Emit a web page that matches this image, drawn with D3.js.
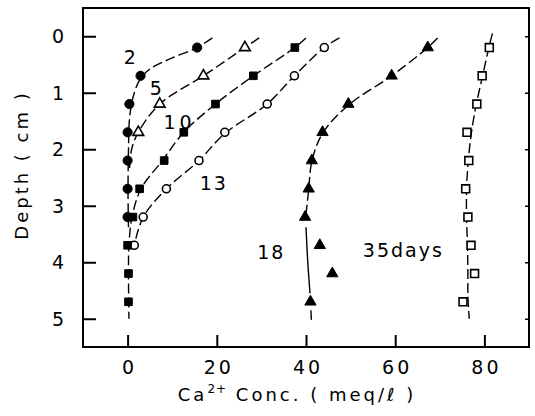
<!DOCTYPE html>
<html>
<head>
<meta charset="utf-8">
<script src="https://cdn.jsdelivr.net/npm/d3@7"></script>
<style>
  html, body { margin: 0; padding: 0; background: #fff; }
  svg { display: block; }
  text { font-family: "DejaVu Sans", sans-serif; fill: #000; }
</style>
</head>
<body>
<svg id="chart" width="535" height="416"></svg>
<script>
// ---- data (Ca2+ concentration in meq/l vs depth in cm) ----
const depths = [0.2, 0.7, 1.2, 1.7, 2.2, 2.7, 3.2, 3.7, 4.2, 4.7];

const day2Values  = [15.6, 2.9, 0.4, 0.0, 0.0, 0.0, 0.0];
const day5Values  = [26.3, 17.0, 7.2, 2.4];
const day10Values = [37.5, 28.2, 19.7, 12.6, 8.2, 2.7, 1.2, 0.0, 0.2, 0.2];
const day13Values = [44.1, 37.4, 31.3, 21.8, 16.0, 8.7, 3.5, 1.5];
const day18Values = [67.3, 59.2, 49.5, 43.7, 41.3, 40.6, 39.8, 43.1, 45.9, 41.0];
const day35Values = [81.1, 79.5, 78.3, 76.1, 76.5, 75.8, 76.3, 77.0, 77.8, 75.2];

// hand-drawn fitted curves: [conc, depth]
const curve2  = [[19.0,0.03],[15.6,0.2],[9.5,0.4],[5.0,0.58],[2.9,0.75],[1.5,1.0],[0.5,1.4],[0.2,2.0],[0.1,2.8],[0.2,3.4]];
const curve5  = [[29.5,0.03],[26.3,0.2],[17.0,0.7],[7.2,1.2],[2.4,1.7],[0.9,2.0],[0.4,2.4]];
const curve10 = [[40.0,0.03],[37.5,0.2],[28.2,0.7],[19.7,1.2],[12.6,1.7],[7.8,2.2],[3.0,2.7],[1.0,3.2],[0.3,3.7],[0.2,4.2],[0.3,5.0]];
const curve13 = [[47.5,0.03],[44.1,0.2],[37.4,0.7],[31.3,1.2],[21.8,1.72],[16.0,2.2],[8.7,2.7],[3.5,3.2],[1.5,3.7]];
const curve18Dashed = [[69.5,0.03],[67.3,0.2],[59.2,0.7],[49.5,1.22],[43.7,1.72],[41.3,2.22],[40.6,2.72],[39.9,3.22]];
const curve18Solid  = [[40.0,3.38],[40.4,4.0],[40.9,4.55]];
const curve18Tail   = [[41.1,4.85],[41.2,5.02]];
const curve35 = [[81.8,-0.05],[81.0,0.2],[79.6,0.7],[78.2,1.2],[77.1,1.7],[76.4,2.2],[76.0,2.7],[76.0,3.2],[76.2,3.7],[76.3,4.2],[76.3,4.6],[76.6,5.0]];

const xTicks = [0, 20, 40, 60, 80];
const yTicks = [0, 1, 2, 3, 4, 5];

const seriesLabels = [
  {text: "2",      conc: 0.5,  depth: 0.37},
  {text: "5",      conc: 6.3,  depth: 0.92},
  {text: "10",     conc: 11.2, depth: 1.52},
  {text: "13",     conc: 19.1, depth: 2.6},
  {text: "18",     conc: 32.0, depth: 3.82},
  {text: "35days", conc: 61.6, depth: 3.79}
];

// ---- drawing ----
const svg = d3.select("#chart");
const L = 83, R = 529, T = 8, B = 347;
const x = d3.scaleLinear().domain([-10, 90]).range([L, R]);
const y = d3.scaleLinear().domain([-0.5, 5.5]).range([T, B]);

// frame
svg.append("rect").attr("x", L).attr("y", T).attr("width", R - L).attr("height", B - T)
  .attr("fill", "none").attr("stroke", "#000").attr("stroke-width", 2);

// bottom axis (ticks inward)
const gx = svg.append("g").attr("transform", `translate(0,${B})`)
  .call(d3.axisBottom(x).tickValues(xTicks).tickSizeInner(-12).tickSizeOuter(0).tickFormat(d3.format("d")));
gx.select(".domain").remove();
gx.selectAll("line").attr("stroke-width", 2);
gx.selectAll("text").attr("font-size", 19).attr("font-family", "DejaVu Sans").attr("letter-spacing", 3)
  .attr("y", 20).attr("dx", 1.5).attr("dy", "0.35em");

// left axis (ticks inward)
const gy = svg.append("g").attr("transform", `translate(${L},0)`)
  .call(d3.axisLeft(y).tickValues(yTicks).tickSizeInner(-13).tickSizeOuter(0).tickFormat(d3.format("d")));
gy.select(".domain").remove();
gy.selectAll("line").attr("stroke-width", 2);
gy.selectAll("text").attr("font-size", 19).attr("font-family", "DejaVu Sans")
  .attr("text-anchor", "middle").attr("x", -25).attr("dy", "0.35em");

// right axis small inward ticks
const gr = svg.append("g").attr("transform", `translate(${R},0)`)
  .call(d3.axisRight(y).tickValues(yTicks).tickSizeInner(-4).tickSizeOuter(0).tickFormat(""));
gr.select(".domain").remove();
gr.selectAll("line").attr("stroke-width", 1.5);

// axis titles
const xt = svg.append("text").attr("x", 297).attr("y", 401).attr("text-anchor", "middle")
  .attr("font-size", 18).attr("letter-spacing", 3);
xt.append("tspan").text("Ca");
xt.append("tspan").text("2+").attr("font-size", 12).attr("dy", -8).attr("letter-spacing", 1);
xt.append("tspan").text(" Conc.  ( meq/ℓ )").attr("dy", 8);

svg.append("text").attr("transform", "translate(28,165) rotate(-90)")
  .attr("text-anchor", "middle").attr("font-size", 18).attr("letter-spacing", 3)
  .text("Depth ( cm )");

// curves
const line = d3.line().x(d => x(d[0])).y(d => y(d[1])).curve(d3.curveCatmullRom.alpha(0.5));
const plot = svg.append("g");
[curve2, curve5, curve10, curve13, curve18Dashed, curve18Tail, curve35].forEach(c => {
  plot.append("path").attr("d", line(c)).attr("fill", "none").attr("stroke", "#000")
    .attr("stroke-width", 1.4).attr("stroke-dasharray", "10,4");
});
plot.append("path").attr("d", line(curve18Solid)).attr("fill", "none").attr("stroke", "#000")
  .attr("stroke-width", 1.4);

// markers
function pts(vals) { return vals.map((v, i) => [v, depths[i]]); }
const sym = (type, size) => d3.symbol().type(type).size(size)();

function drawMarkers(vals, type, size, filled, sw) {
  plot.append("g").selectAll("path").data(pts(vals)).join("path")
    .attr("transform", d => `translate(${x(d[0])},${y(d[1])})`)
    .attr("d", sym(type, size))
    .attr("fill", filled ? "#000" : "#fff")
    .attr("stroke", "#000").attr("stroke-width", sw);
}
drawMarkers(day13Values, d3.symbolCircle, 50, false, 1.6);
drawMarkers(day5Values, d3.symbolTriangle, 50, false, 1.6);
drawMarkers(day35Values, d3.symbolSquare, 62, false, 1.6);
drawMarkers(day18Values, d3.symbolTriangle, 55, true, 1);
drawMarkers(day10Values, d3.symbolSquare, 58, true, 1);
drawMarkers(day2Values, d3.symbolCircle, 66, true, 1);

// series labels
svg.append("g").selectAll("text").data(seriesLabels).join("text")
  .attr("x", d => x(d.conc)).attr("y", d => y(d.depth))
  .attr("text-anchor", "middle")
  .attr("dx", d => d.text === "10" ? 2 : 1)
  .attr("dy", "0.35em").attr("font-size", 19)
  .attr("letter-spacing", d => d.text === "10" ? 4 : 2)
  .text(d => d.text);
</script>
</body>
</html>
